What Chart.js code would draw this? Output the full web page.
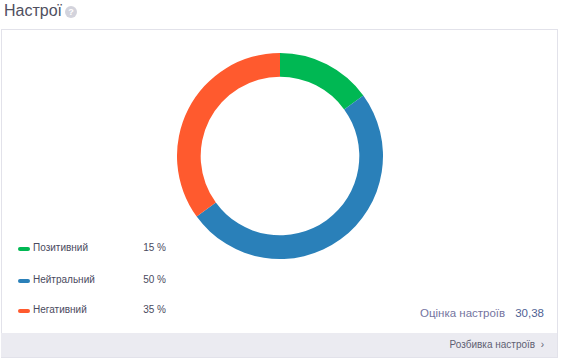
<!DOCTYPE html>
<html>
<head>
<meta charset="utf-8">
<script src="https://cdn.jsdelivr.net/npm/chart.js@4/dist/chart.umd.min.js"></script>
<style>
  html, body { margin:0; padding:0; background:#fff; width:569px; height:362px; overflow:hidden; font-family:"Open Sans", "Noto Sans", Arial, sans-serif; }
  #title { position:absolute; left:4px; top:2px; font-size:16px; color:#50505f; font-family:"Liberation Sans", Arial, sans-serif; }
  #help { position:absolute; left:65px; top:6px; width:12px; height:12px; border-radius:50%; background:#d3d3dc; color:#fff; font-size:9px; line-height:12px; text-align:center; font-family:"Liberation Sans", Arial, sans-serif; font-weight:bold; }
  #panel { position:absolute; left:1px; top:29px; width:555px; height:327px; border:1px solid #e2e2ea; box-sizing:content-box; }
  #footer { position:absolute; left:1px; top:333px; width:556px; height:24px; background:#ebebf1; }
  #footerText { position:absolute; right:25px; top:339px; font-size:10px; color:#5f5f72; font-family:"Liberation Sans", Arial, sans-serif; }
  #wrap { position:absolute; left:177px; top:53px; width:206px; height:206px; }
  .leg { position:absolute; left:18px; font-size:10px; color:#4a4a5e; font-family:"Liberation Sans", Arial, sans-serif; }
  .leg .mk { position:absolute; left:0; top:5px; width:12px; height:4px; border-radius:2px; }
  .leg .lb { position:absolute; left:15px; top:0; white-space:nowrap; }
  .leg .pv { position:absolute; left:100px; width:48px; text-align:right; top:0; white-space:nowrap; }
  #score { position:absolute; left:420px; top:307px; font-size:11.5px; color:#7474a0; font-family:"Liberation Sans", Arial, sans-serif; white-space:nowrap; }
  #score b { font-weight:normal; color:#4f5f94; margin-left:10px; }
</style>
</head>
<body>
<div id="title">Настрої</div>
<div id="help">?</div>
<div id="panel"></div>
<div id="footer"></div>
<div id="footerText">Розбивка настроїв &nbsp;›</div>
<div id="wrap"><canvas id="c" width="206" height="206"></canvas></div>
<div id="legend"></div>
<div id="score"></div>
<script>
const categories = ["Позитивний", "Нейтральний", "Негативний"];
const values = [15, 50, 35];
const valueLabels = ["15 %", "50 %", "35 %"];
const colors = ["#00b853", "#2a80b9", "#ff5a2e"];
const scoreLabel = "Оцінка настроїв";
const scoreValue = "30,38";

const legendTops = [242, 274, 304];
const legend = document.getElementById('legend');
categories.forEach((c, i) => {
  const d = document.createElement('div');
  d.className = 'leg';
  d.style.top = legendTops[i] + 'px';
  d.innerHTML = '<span class="mk" style="background:' + colors[i] + '"></span><span class="lb">' + c + '</span><span class="pv">' + valueLabels[i] + '</span>';
  legend.appendChild(d);
});
document.getElementById('score').innerHTML = scoreLabel + '<b>' + scoreValue + '</b>';

new Chart(document.getElementById('c'), {
  type: 'doughnut',
  data: {
    labels: categories,
    datasets: [{ data: values, backgroundColor: colors, borderWidth: 0, hoverOffset: 0 }]
  },
  options: {
    responsive: false,
    animation: false,
    cutout: '77%',
    layout: { padding: 0 },
    plugins: { legend: { display: false }, tooltip: { enabled: false } }
  }
});
</script>
</body>
</html>
